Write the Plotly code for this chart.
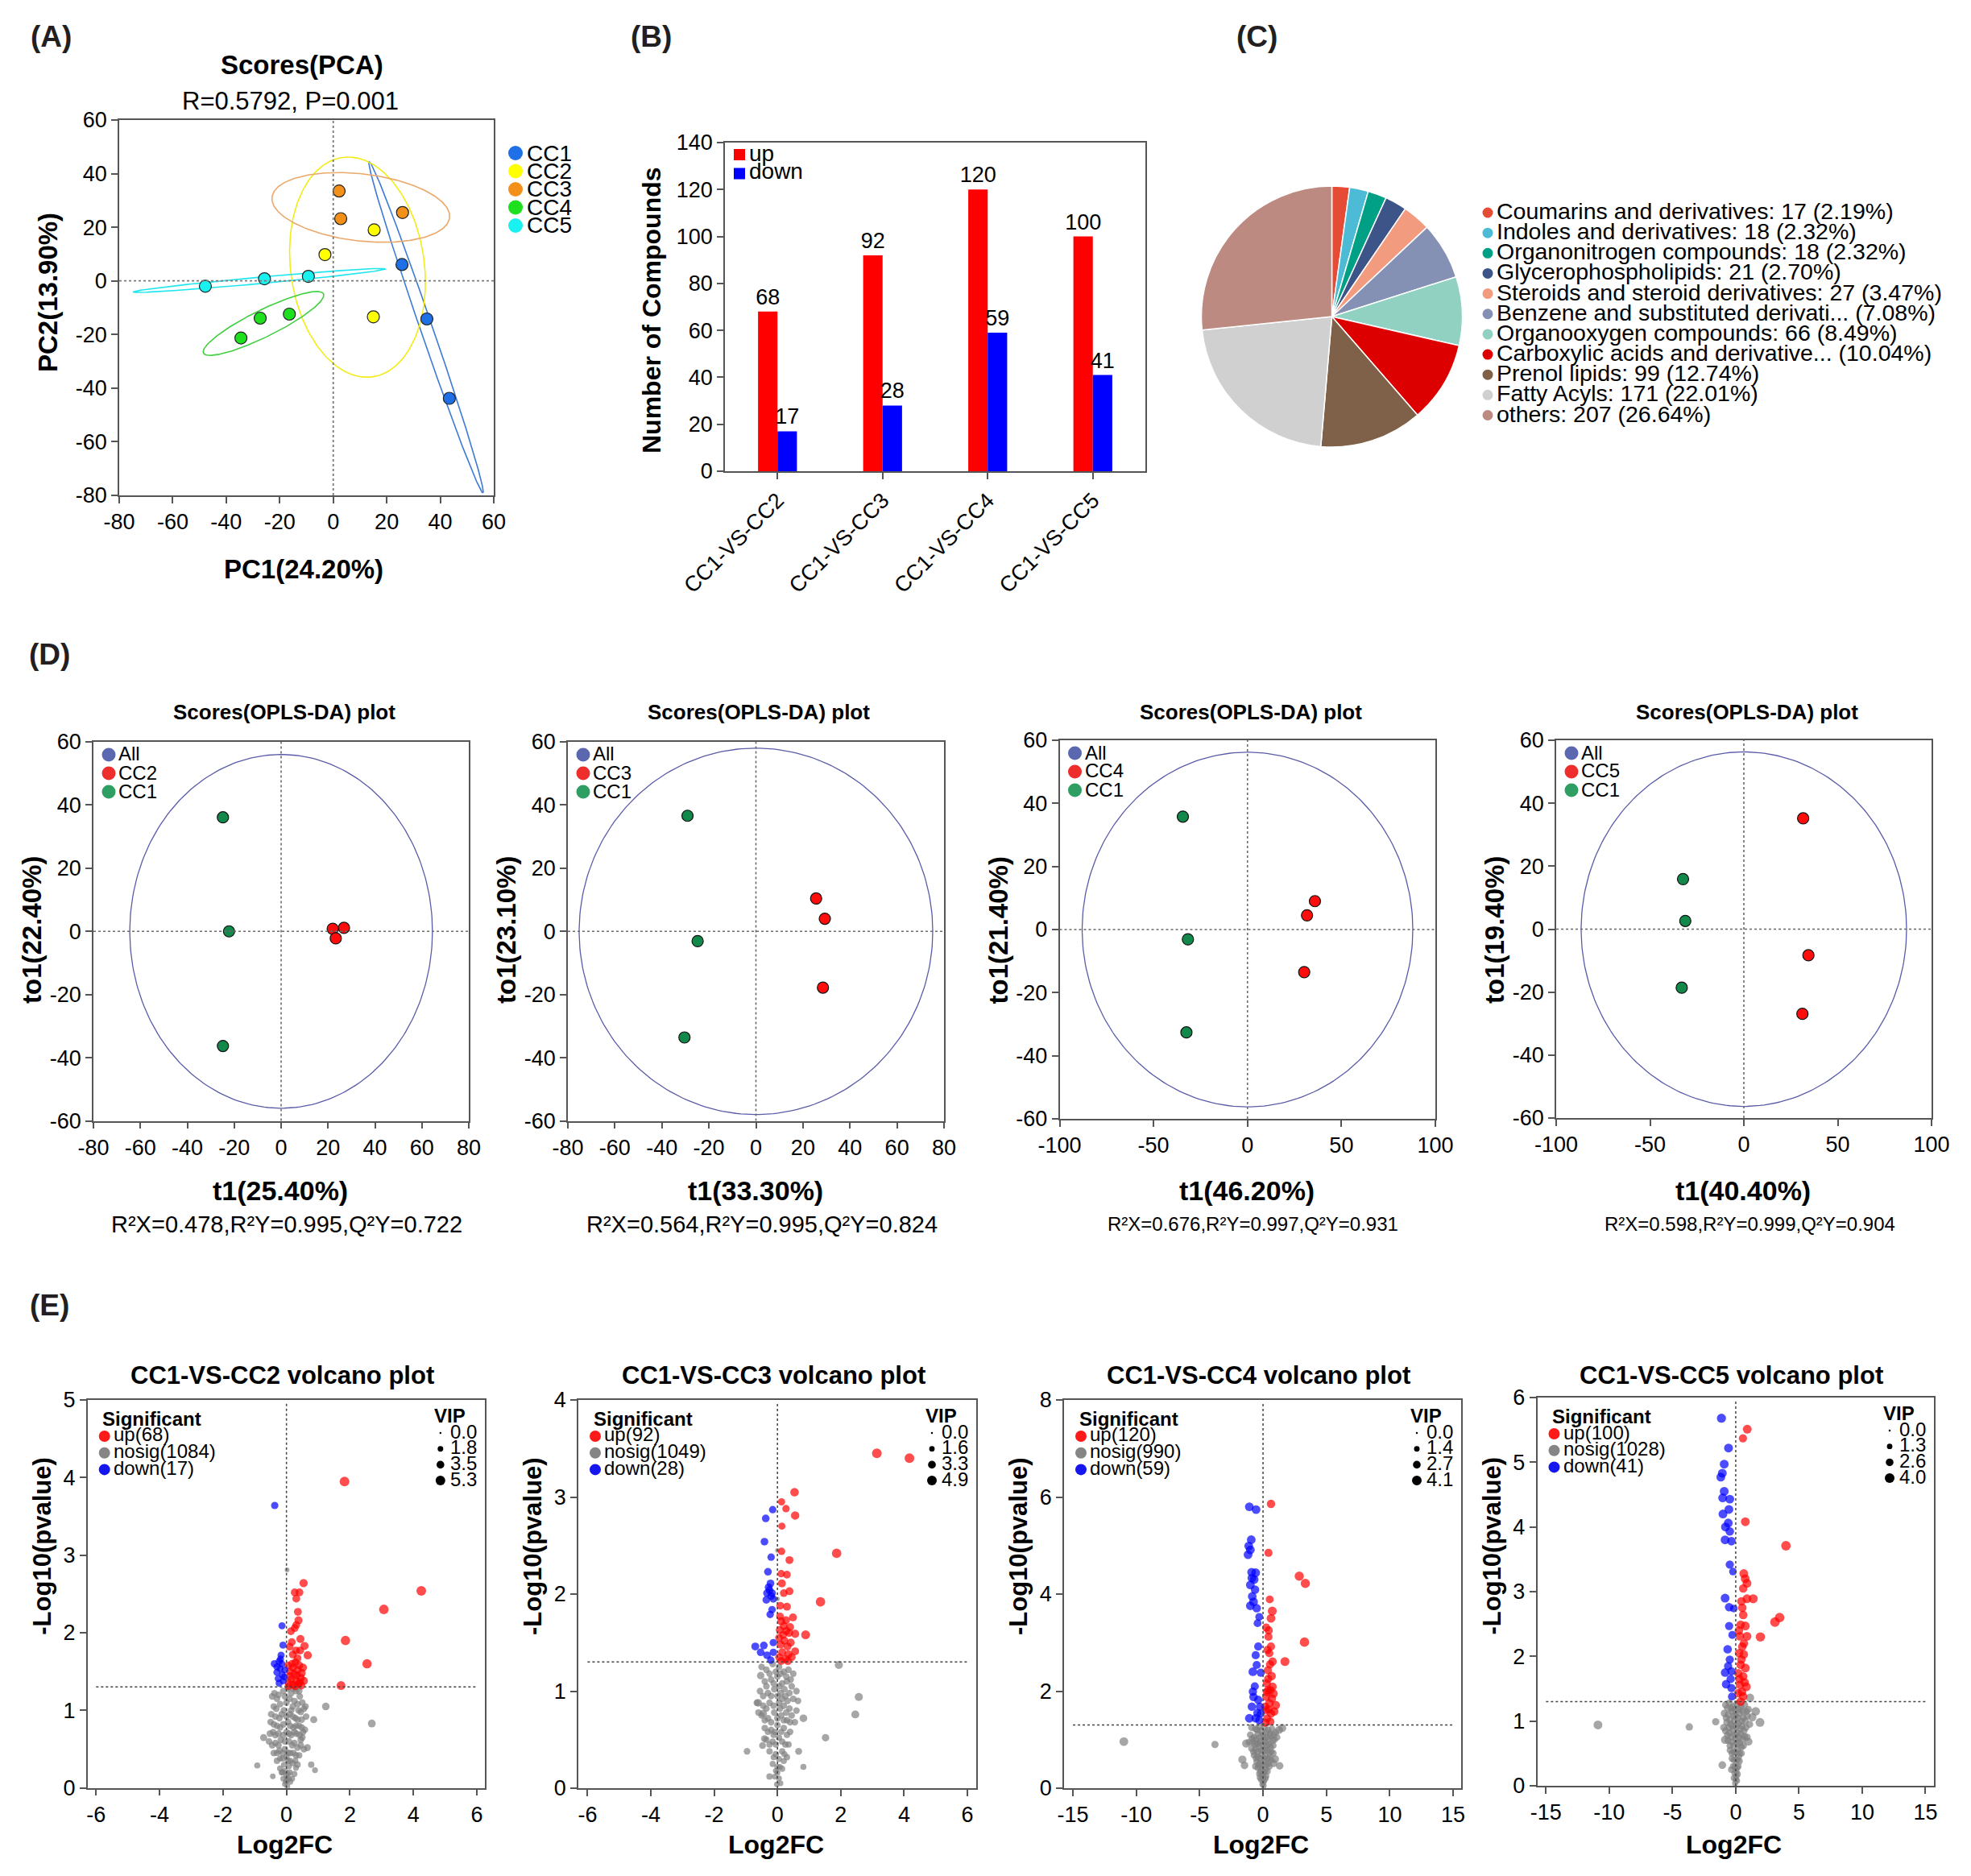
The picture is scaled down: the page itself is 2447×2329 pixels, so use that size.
import numpy as np
import plotly.graph_objects as go

W, H = 2447, 2329
FONT = "Liberation Sans, Arial, Helvetica, sans-serif"
AXC = "#555555"

# ====================== DATA ======================
# (A) PCA scores
PCA_GROUPS = ["CC1", "CC2", "CC3", "CC4", "CC5"]
PCA_PC1 = [[25.7, 35.0, 43.4], [15.3, -3.1, 15.0], [2.2, 2.8, 25.9],
           [-34.5, -27.3, -16.4], [-47.8, -25.7, -9.3]]
PCA_PC2 = [[6.1, -14.2, -43.8], [19.0, 9.8, -13.4], [33.5, 23.2, 25.5],
           [-21.3, -13.9, -12.4], [-2.0, 0.8, 1.7]]
PCA_COLORS = ["#1f6fe6", "#ffff00", "#f39019", "#1ee01e", "#19f0f0"]
ELL_COLORS = ["#3d7ad6", "#f2ec1a", "#eba86a", "#3fcf3f", "#1ee6ee"]
ELL_SEMI_MAJOR = [65.3, 41.3, 33.4, 25.0, 47.3]
ELL_SEMI_MINOR = [2.3, 25.0, 12.5, 5.0, 1.2]
ELL_ANGLE_DEG = [-71.0, -82.3, -6.6, 26.2, 5.2]

# (B) differential compounds
COMPARISONS = ["CC1-VS-CC2", "CC1-VS-CC3", "CC1-VS-CC4", "CC1-VS-CC5"]
N_UP = [68, 92, 120, 100]
N_DOWN = [17, 28, 59, 41]

# (C) classes
CLASSES = ["Coumarins and derivatives", "Indoles and derivatives", "Organonitrogen compounds",
           "Glycerophospholipids", "Steroids and steroid derivatives",
           "Benzene and substituted derivatives", "Organooxygen compounds",
           "Carboxylic acids and derivatives", "Prenol lipids", "Fatty Acyls", "others"]
CLASS_COUNTS = [17, 18, 18, 21, 27, 55, 66, 78, 99, 171, 207]
TRUNCATED = {"Benzene and substituted derivatives": "Benzene and substituted derivati...",
             "Carboxylic acids and derivatives": "Carboxylic acids and derivative..."}
PIE_COLORS = ["#E64B35", "#4DBBD5", "#00A087", "#3C5488", "#F39B7F", "#8491B4",
              "#91D1C2", "#DC0000", "#7E6148", "#D0D0D0", "#BC8A80"]

# (D) OPLS-DA
OPLS_GROUP = ["CC2", "CC3", "CC4", "CC5"]
OPLS_T1_PCT = ["25.40%", "33.30%", "46.20%", "40.40%"]
OPLS_TO1_PCT = ["22.40%", "23.10%", "21.40%", "19.40%"]
OPLS_STATS = ["R²X=0.478,R²Y=0.995,Q²Y=0.722", "R²X=0.564,R²Y=0.995,Q²Y=0.824",
              "R²X=0.676,R²Y=0.997,Q²Y=0.931", "R²X=0.598,R²Y=0.999,Q²Y=0.904"]
OPLS_CC1_T1 = [[-24.8, -22.2, -24.8], [-29.1, -24.8, -30.4], [-34.4, -31.7, -32.5], [-32.4, -31.2, -33.1]]
OPLS_CC1_TO1 = [[36.1, 0.0, -36.3], [36.6, -3.1, -33.6], [35.8, -3.1, -32.6], [15.9, 2.6, -18.6]]
OPLS_CCX_T1 = [[22.0, 26.8, 23.3], [25.6, 29.3, 28.5], [35.9, 31.7, 30.2], [31.6, 34.4, 31.2]]
OPLS_CCX_TO1 = [[0.8, 1.1, -2.2], [10.4, 4.0, -17.8], [9.0, 4.5, -13.5], [35.2, -8.3, -26.9]]
OPLS_ELL_A = [64.5, 75.2, 88.0, 86.7]
OPLS_ELL_B = [56.0, 58.0, 56.2, 56.3]
OPLS_XLIM = [80, 80, 100, 100]
OPLS_XDTICK = [20, 20, 50, 50]

# (E) volcano plots: (log2FC, -log10 p, VIP)
VIP_LEGEND = [[0.0, 1.8, 3.5, 5.3], [0.0, 1.6, 3.3, 4.9], [0.0, 1.4, 2.7, 4.1], [0.0, 1.3, 2.6, 4.0]]
VOL_COUNTS = [(68, 1084, 17), (92, 1049, 28), (120, 990, 59), (100, 1028, 41)]
VOL_YMAX = [5, 4, 8, 6]
VOL_XTICK = [2, 2, 5, 5]

E1_UP = [(1.83, 3.95, 5.3), (4.25, 2.54, 5.3), (3.07, 2.30, 5.3), (1.86, 1.90, 5.0), (2.54, 1.60, 5.0), (1.72, 1.32, 4.5),
         (0.54, 2.64, 4.0), (0.26, 2.52, 3.6), (0.41, 2.52, 3.6), (0.31, 2.44, 3.6), (0.36, 2.27, 3.6), (0.38, 2.16, 3.8),
         (0.31, 2.10, 3.6), (0.14, 2.02, 3.6), (0.26, 2.06, 3.6), (0.17, 1.88, 3.6), (0.44, 1.92, 3.8), (0.57, 1.83, 3.8),
         (0.67, 1.71, 4.0), (0.10, 1.82, 3.6), (0.30, 1.77, 3.6), (0.43, 1.77, 3.6), (0.20, 1.72, 3.6), (0.35, 1.67, 3.6),
         (0.08, 1.35, 3.6), (0.15, 1.40, 3.6), (0.22, 1.33, 3.6), (0.30, 1.38, 3.6), (0.38, 1.34, 3.6), (0.45, 1.42, 3.8),
         (0.12, 1.50, 3.6), (0.25, 1.47, 3.6), (0.35, 1.52, 3.8), (0.48, 1.48, 3.8), (0.05, 1.58, 3.4), (0.18, 1.60, 3.6),
         (0.28, 1.62, 3.6), (0.40, 1.58, 3.8), (0.52, 1.55, 3.8), (0.10, 1.44, 3.6), (0.33, 1.45, 3.6), (0.42, 1.36, 3.6),
         (0.20, 1.55, 3.6), (0.55, 1.38, 3.8), (0.06, 1.31, 3.4), (0.27, 1.31, 3.6), (0.47, 1.32, 3.6)]
E1_DOWN = [(-0.37, 3.64, 3.2), (-0.14, 2.09, 3.0), (-0.11, 1.84, 3.0), (-0.17, 1.71, 3.0), (-0.23, 1.63, 3.0),
           (-0.38, 1.60, 3.2), (-0.20, 1.54, 3.0), (-0.30, 1.49, 3.0), (-0.13, 1.46, 3.0), (-0.26, 1.41, 3.0),
           (-0.07, 1.43, 2.8), (-0.23, 1.35, 3.0), (-0.30, 1.56, 3.0), (-0.15, 1.60, 3.0), (-0.05, 1.52, 2.8),
           (-0.19, 1.66, 3.0), (-0.10, 1.38, 2.8)]
E1_NOSIG = [(1.24, 1.05, 3.4), (2.69, 0.83, 3.6), (0.86, 0.88, 3.0), (-0.72, 0.65, 3.0), (-0.92, 0.29, 2.2),
            (-0.43, 0.15, 1.8), (0.78, 0.30, 2.4), (0.90, 0.23, 2.0), (0.66, 0.52, 2.8), (0.30, 0.26, 2.0), (0.02, 2.81, 1.2),
            (-0.45, 1.18, 2.6), (-0.30, 1.15, 2.6), (-0.10, 1.25, 2.6), (0.05, 1.28, 2.6), (0.15, 1.22, 2.6), (0.30, 1.25, 2.6),
            (0.42, 1.18, 2.6), (0.50, 1.10, 2.6), (0.55, 1.02, 2.6), (-0.40, 1.05, 2.6), (-0.20, 1.08, 2.6), (0.00, 1.10, 2.6),
            (0.20, 1.05, 2.6), (0.38, 1.00, 2.6), (-0.48, 0.95, 2.6), (-0.35, 0.92, 2.6), (-0.15, 0.95, 2.6), (0.10, 0.95, 2.6),
            (0.28, 0.90, 2.6), (0.48, 0.88, 2.6), (0.62, 0.92, 2.6), (-0.50, 0.85, 2.6), (-0.30, 0.80, 2.6), (-0.10, 0.82, 2.6),
            (0.05, 0.85, 2.6), (0.22, 0.78, 2.6), (0.40, 0.80, 2.6), (0.58, 0.75, 2.6), (-0.42, 0.72, 2.6), (-0.25, 0.70, 2.6),
            (0.00, 0.72, 2.6), (0.15, 0.68, 2.6), (0.32, 0.70, 2.6), (0.50, 0.65, 2.6), (-0.55, 0.60, 2.6), (-0.35, 0.58, 2.6),
            (-0.18, 0.62, 2.6), (0.08, 0.60, 2.6), (0.25, 0.58, 2.6), (0.45, 0.55, 2.6), (-0.40, 0.45, 2.6), (-0.22, 0.48, 2.6),
            (-0.05, 0.50, 2.6), (0.12, 0.45, 2.6), (0.30, 0.42, 2.6), (0.55, 0.50, 2.6), (-0.30, 0.35, 2.4), (-0.12, 0.38, 2.4),
            (0.05, 0.35, 2.4), (0.20, 0.32, 2.4), (0.35, 0.30, 2.4), (-0.20, 0.25, 2.2), (-0.05, 0.22, 2.2), (0.10, 0.20, 2.2),
            (0.25, 0.18, 2.2), (-0.10, 0.12, 2.0), (0.02, 0.10, 2.0), (0.12, 0.08, 2.0), (-0.05, 0.05, 1.8), (0.03, 0.02, 1.8),
            (0.00, 0.15, 2.0), (-0.15, 0.20, 2.2), (0.18, 0.12, 2.0),
            (-0.25, 1.20, 2.6), (-0.05, 1.18, 2.6), (0.10, 1.15, 2.6), (0.25, 1.12, 2.6), (0.35, 1.08, 2.6), (-0.32, 1.02, 2.6),
            (-0.08, 1.00, 2.6), (0.15, 1.00, 2.6), (0.45, 0.98, 2.6), (-0.22, 0.90, 2.6), (0.00, 0.92, 2.6), (0.20, 0.92, 2.6),
            (0.35, 0.88, 2.6), (-0.40, 0.82, 2.6), (-0.20, 0.78, 2.6), (0.12, 0.80, 2.6), (0.30, 0.80, 2.6), (0.48, 0.78, 2.6),
            (-0.35, 0.68, 2.6), (-0.10, 0.68, 2.6), (0.08, 0.70, 2.6), (0.25, 0.72, 2.6), (0.42, 0.68, 2.6), (-0.45, 0.55, 2.6),
            (-0.25, 0.55, 2.6), (-0.05, 0.60, 2.6), (0.18, 0.55, 2.6), (0.35, 0.52, 2.6), (-0.30, 0.45, 2.4), (-0.12, 0.45, 2.4),
            (0.05, 0.45, 2.4), (0.22, 0.45, 2.4), (0.40, 0.42, 2.4), (-0.20, 0.38, 2.2), (0.00, 0.40, 2.2), (0.12, 0.35, 2.2),
            (0.28, 0.35, 2.2), (-0.08, 0.30, 2.0), (0.08, 0.28, 2.0), (-0.12, 0.20, 2.0), (0.05, 0.18, 2.0), (-0.02, 0.08, 1.8),
            (0.08, 0.12, 1.8), (0.45, 0.62, 2.6), (0.52, 0.72, 2.6), (-0.52, 0.70, 2.6), (0.60, 1.05, 2.6), (-0.38, 1.22, 2.6),
            (0.40, 1.25, 2.6), (0.22, 1.28, 2.6)]

E2_UP = [(3.14, 3.45, 4.9), (4.17, 3.40, 4.9), (1.87, 2.42, 4.7), (1.36, 1.92, 4.7), (0.89, 1.58, 4.2), (0.54, 3.05, 3.9),
         (0.13, 2.95, 2.8), (0.27, 2.88, 3.0), (0.56, 2.81, 3.8), (0.14, 2.70, 2.8), (0.13, 2.44, 3.0), (0.38, 2.35, 3.4),
         (0.12, 2.21, 3.0), (0.30, 2.20, 3.2), (0.14, 2.11, 3.4), (0.38, 2.03, 3.4), (0.20, 2.01, 3.2), (0.09, 1.88, 3.2),
         (0.30, 1.87, 3.4), (0.08, 1.77, 3.2), (0.49, 1.76, 3.4), (0.27, 1.73, 3.4), (0.12, 1.72, 3.4), (0.37, 1.60, 3.4),
         (0.56, 1.59, 3.6), (0.07, 1.63, 3.2), (0.56, 1.41, 3.4), (0.05, 1.35, 3.2), (0.15, 1.40, 3.4), (0.25, 1.33, 3.4),
         (0.35, 1.38, 3.4), (0.45, 1.35, 3.4), (0.10, 1.48, 3.4), (0.22, 1.52, 3.4), (0.32, 1.46, 3.4), (0.42, 1.50, 3.4),
         (0.18, 1.58, 3.4), (0.28, 1.62, 3.4), (0.05, 1.55, 3.2), (0.40, 1.66, 3.4), (0.20, 1.67, 3.4), (0.33, 1.31, 3.4),
         (0.12, 1.31, 3.2)]
E2_DOWN = [(-0.15, 2.87, 3.0), (-0.37, 2.78, 3.2), (-0.41, 2.54, 3.2), (-0.20, 2.38, 3.0), (-0.30, 2.23, 3.2),
           (-0.22, 2.11, 3.2), (-0.25, 2.04, 3.2), (-0.33, 2.01, 3.2), (-0.17, 2.01, 3.2), (-0.35, 1.94, 3.2),
           (-0.13, 1.95, 3.0), (-0.17, 1.84, 3.0), (-0.23, 1.79, 3.0), (-0.70, 1.46, 3.4), (-0.43, 1.47, 3.2),
           (-0.13, 1.50, 3.0), (-0.53, 1.40, 3.2), (-0.33, 1.37, 3.2), (-0.13, 1.40, 3.0), (-0.21, 1.32, 3.0),
           (-0.28, 2.07, 3.2), (-0.20, 1.98, 3.2)]
E2_NOSIG = [(1.94, 1.27, 3.6), (2.57, 0.94, 3.6), (2.46, 0.76, 3.4), (1.52, 0.52, 3.0), (0.82, 0.72, 3.2), (-0.61, 0.88, 3.2),
            (-0.96, 0.38, 2.4), (-0.47, 0.44, 2.6), (0.67, 0.38, 2.6), (0.82, 0.22, 2.0), (-0.53, 1.16, 3.0), (-0.45, 0.77, 3.0),
            (-0.41, 0.51, 2.6), (-0.25, 0.12, 2.2), (0.00, 2.45, 1.0), (0.00, 1.95, 1.0),
            (-0.50, 1.25, 2.4), (-0.35, 1.22, 2.4), (-0.15, 1.28, 2.4), (0.05, 1.25, 2.4), (0.20, 1.20, 2.4), (0.35, 1.22, 2.4),
            (0.50, 1.18, 2.4), (-0.40, 1.10, 2.4), (-0.20, 1.12, 2.4), (0.00, 1.15, 2.4), (0.15, 1.08, 2.4), (0.30, 1.10, 2.4),
            (0.45, 1.05, 2.4), (0.60, 1.00, 2.4), (-0.55, 1.00, 2.4), (-0.30, 0.98, 2.4), (-0.10, 1.02, 2.4), (0.10, 0.98, 2.4),
            (0.25, 0.95, 2.4), (0.50, 0.92, 2.4), (-0.65, 0.88, 2.4), (-0.45, 0.85, 2.4), (-0.25, 0.88, 2.4), (0.05, 0.88, 2.4),
            (0.20, 0.85, 2.4), (0.38, 0.82, 2.4), (0.60, 0.80, 2.4), (-0.50, 0.75, 2.4), (-0.30, 0.72, 2.4), (-0.10, 0.78, 2.4),
            (0.12, 0.75, 2.4), (0.30, 0.70, 2.4), (0.55, 0.68, 2.4), (-0.40, 0.62, 2.4), (-0.20, 0.60, 2.4), (0.00, 0.65, 2.4),
            (0.20, 0.62, 2.4), (0.40, 0.58, 2.4), (-0.35, 0.50, 2.2), (-0.15, 0.48, 2.2), (0.05, 0.52, 2.2), (0.25, 0.45, 2.2),
            (-0.25, 0.38, 2.2), (-0.05, 0.35, 2.2), (0.15, 0.38, 2.2), (0.30, 0.32, 2.2), (-0.15, 0.25, 2.0), (0.00, 0.22, 2.0),
            (0.15, 0.20, 2.0), (-0.08, 0.12, 1.8), (0.05, 0.10, 1.8), (0.10, 0.05, 1.6), (-0.02, 0.04, 1.6), (0.00, 0.16, 1.8),
            (0.20, 0.28, 2.0), (-0.12, 0.55, 2.2),
            (-0.25, 1.18, 2.4), (-0.05, 1.20, 2.4), (0.10, 1.18, 2.4), (0.28, 1.15, 2.4), (0.42, 1.12, 2.4), (-0.35, 1.05, 2.4),
            (-0.12, 1.08, 2.4), (0.05, 1.05, 2.4), (0.22, 1.02, 2.4), (0.38, 0.98, 2.4), (-0.45, 0.95, 2.4), (-0.20, 0.95, 2.4),
            (0.00, 0.95, 2.4), (0.15, 0.92, 2.4), (0.32, 0.90, 2.4), (-0.35, 0.82, 2.4), (-0.12, 0.85, 2.4), (0.08, 0.82, 2.4),
            (0.28, 0.78, 2.4), (0.45, 0.75, 2.4), (-0.40, 0.70, 2.4), (-0.20, 0.68, 2.4), (0.00, 0.72, 2.4), (0.20, 0.70, 2.4),
            (0.40, 0.68, 2.4), (-0.30, 0.58, 2.2), (-0.08, 0.58, 2.2), (0.12, 0.58, 2.2), (0.30, 0.55, 2.2), (-0.25, 0.45, 2.2),
            (-0.05, 0.45, 2.2), (0.15, 0.48, 2.2), (0.35, 0.45, 2.2), (-0.12, 0.32, 2.0), (0.05, 0.30, 2.0), (0.22, 0.35, 2.0),
            (-0.05, 0.18, 1.8), (0.08, 0.22, 1.8), (0.65, 0.90, 2.4), (-0.60, 0.78, 2.4)]

E3_UP = [(0.63, 5.86, 3.2), (0.43, 4.85, 3.0), (2.86, 4.37, 3.8), (3.34, 4.22, 3.8), (0.53, 3.89, 2.8), (0.73, 3.65, 3.6),
         (0.63, 3.50, 3.4), (3.27, 3.01, 3.9), (1.73, 2.61, 3.6), (0.25, 3.31, 3.0), (0.43, 3.12, 3.0), (0.63, 2.92, 3.0),
         (0.50, 2.78, 3.0), (0.75, 2.61, 3.2), (0.38, 2.43, 3.0), (0.68, 2.31, 3.2), (0.30, 2.16, 3.0), (0.58, 2.02, 3.2),
         (0.25, 1.88, 3.0), (0.83, 1.95, 3.2), (1.00, 1.71, 3.4), (0.50, 1.75, 3.2), (0.25, 1.61, 3.0), (0.63, 1.54, 3.2),
         (0.33, 1.44, 3.0), (0.58, 1.37, 3.0), (0.18, 1.68, 3.0), (0.38, 2.02, 3.0), (0.75, 2.09, 3.2), (0.88, 1.58, 3.2),
         (0.20, 1.35, 3.0), (0.45, 1.62, 3.0), (0.40, 2.25, 3.0), (0.55, 2.55, 3.0), (0.35, 2.85, 3.0), (0.45, 3.25, 3.0),
         (0.70, 1.85, 3.2), (0.30, 1.98, 3.0)]
E3_DOWN = [(-1.08, 5.80, 3.4), (-0.55, 5.74, 3.4), (-0.93, 5.12, 3.4), (-1.13, 4.99, 3.4), (-1.00, 4.91, 3.4),
           (-1.18, 4.81, 3.4), (-0.58, 4.44, 3.4), (-0.88, 4.33, 3.4), (-1.00, 4.19, 3.4), (-0.63, 4.09, 3.2),
           (-0.75, 3.84, 3.4), (-1.00, 3.76, 3.4), (-0.50, 3.71, 3.2), (-0.30, 3.53, 2.8), (-0.43, 3.40, 2.8),
           (-0.38, 2.92, 3.0), (-0.58, 2.74, 3.0), (-0.80, 2.40, 3.4), (-0.18, 2.38, 3.0), (-0.50, 2.54, 3.0),
           (-0.80, 1.99, 3.2), (-0.38, 1.82, 3.2), (-0.88, 1.68, 3.2), (-0.25, 1.68, 3.0), (-1.08, 1.44, 3.4),
           (-0.58, 1.44, 3.2), (-0.18, 1.54, 3.0), (-0.75, 1.88, 3.2), (-0.90, 4.45, 3.4), (-0.70, 4.30, 3.4),
           (-0.85, 3.95, 3.4), (-0.45, 1.55, 3.0), (-0.30, 1.40, 3.0), (-0.65, 2.10, 3.0)]
E3_NOSIG = [(-10.98, 0.96, 3.4), (-3.79, 0.90, 2.4), (-1.33, 0.92, 3.0), (-1.63, 0.59, 3.0), (-1.46, 0.47, 2.6),
            (1.51, 1.24, 3.0), (1.26, 1.20, 2.8), (0.95, 0.60, 2.8), (1.31, 0.46, 2.6), (0.83, 0.51, 2.6),
            (-0.9, 1.25, 2.2), (-0.6, 1.22, 2.2), (-0.3, 1.27, 2.2), (0.1, 1.25, 2.2), (0.4, 1.20, 2.2), (0.7, 1.22, 2.2),
            (1.0, 1.15, 2.2), (-1.0, 1.10, 2.2), (-0.7, 1.05, 2.2), (-0.4, 1.12, 2.2), (0.0, 1.10, 2.2), (0.3, 1.05, 2.2),
            (0.6, 1.08, 2.2), (0.9, 1.00, 2.2), (-0.8, 0.95, 2.2), (-0.5, 0.92, 2.2), (-0.2, 0.98, 2.2), (0.15, 0.95, 2.2),
            (0.45, 0.90, 2.2), (0.8, 0.88, 2.2), (-0.9, 0.82, 2.2), (-0.6, 0.80, 2.2), (-0.3, 0.85, 2.2), (0.05, 0.80, 2.2),
            (0.35, 0.78, 2.2), (0.65, 0.75, 2.2), (-0.7, 0.68, 2.2), (-0.4, 0.65, 2.2), (-0.1, 0.70, 2.2), (0.2, 0.66, 2.2),
            (0.5, 0.62, 2.2), (-0.5, 0.55, 2.0), (-0.2, 0.52, 2.0), (0.1, 0.55, 2.0), (0.4, 0.50, 2.0), (-0.4, 0.42, 2.0),
            (-0.1, 0.40, 2.0), (0.2, 0.38, 2.0), (-0.3, 0.30, 1.8), (0.0, 0.28, 1.8), (0.25, 0.25, 1.8), (-0.15, 0.18, 1.8),
            (0.1, 0.15, 1.6), (-0.05, 0.08, 1.6), (0.05, 0.05, 1.6), (0.0, 0.12, 1.6), (-0.25, 0.22, 1.8), (0.35, 0.35, 2.0),
            (-0.45, 1.20, 2.2), (-0.15, 1.18, 2.2), (0.25, 1.15, 2.2), (0.55, 1.12, 2.2), (0.85, 1.10, 2.2), (-0.85, 1.02, 2.2),
            (-0.55, 1.00, 2.2), (-0.25, 1.05, 2.2), (0.10, 1.02, 2.2), (0.45, 1.00, 2.2), (0.75, 0.98, 2.2), (-0.65, 0.90, 2.2),
            (-0.35, 0.92, 2.2), (0.00, 0.90, 2.2), (0.30, 0.88, 2.2), (0.60, 0.85, 2.2), (-0.75, 0.75, 2.2), (-0.45, 0.75, 2.2),
            (-0.15, 0.78, 2.2), (0.20, 0.78, 2.2), (0.50, 0.72, 2.2), (0.80, 0.72, 2.2), (-0.55, 0.62, 2.1), (-0.25, 0.62, 2.1),
            (0.05, 0.62, 2.1), (0.35, 0.60, 2.1), (0.65, 0.58, 2.1), (-0.35, 0.48, 2.0), (-0.05, 0.48, 2.0), (0.25, 0.48, 2.0),
            (-0.2, 0.35, 1.9), (0.1, 0.33, 1.9), (0.0, 0.20, 1.7), (0.2, 0.20, 1.7), (-0.1, 0.28, 1.8), (0.5, 0.45, 2.0),
            (-0.6, 0.45, 2.0), (1.1, 1.05, 2.2), (-1.1, 0.95, 2.2)]

E4_UP = [(0.91, 5.51, 3.4), (0.57, 5.37, 3.0), (0.76, 4.08, 3.4), (3.97, 3.71, 3.9), (0.64, 3.28, 3.4), (0.89, 3.13, 3.4),
         (0.59, 3.05, 3.2), (0.89, 2.89, 3.4), (1.38, 2.89, 3.6), (3.10, 2.53, 3.9), (3.47, 2.60, 3.9), (1.95, 2.30, 3.8),
         (0.52, 2.75, 3.2), (0.59, 2.64, 3.2), (0.39, 2.49, 3.2), (0.76, 2.47, 3.4), (0.34, 2.31, 3.2), (0.89, 2.31, 3.4),
         (0.52, 2.15, 3.2), (0.27, 2.05, 3.2), (0.64, 2.03, 3.2), (0.39, 1.87, 3.2), (0.76, 1.82, 3.4), (0.20, 1.74, 3.2),
         (0.59, 1.69, 3.2), (0.34, 1.56, 3.2), (0.84, 1.53, 3.4), (0.20, 1.43, 3.2), (0.59, 1.38, 3.2), (0.39, 1.30, 3.2),
         (0.45, 1.95, 3.2), (0.30, 1.65, 3.2), (0.70, 1.60, 3.2), (0.50, 1.45, 3.2), (0.25, 2.40, 3.2), (0.65, 2.20, 3.2),
         (0.45, 2.85, 3.2), (0.75, 3.20, 3.4)]
E4_DOWN = [(-1.13, 5.68, 3.6), (-0.57, 5.22, 3.4), (-0.91, 4.97, 3.4), (-1.06, 4.83, 3.4), (-1.18, 4.77, 3.4),
           (-0.91, 4.55, 3.4), (-1.03, 4.45, 3.4), (-0.47, 4.43, 3.4), (-0.54, 4.27, 3.4), (-1.01, 4.20, 3.4),
           (-0.59, 4.06, 3.4), (-0.81, 4.00, 3.4), (-0.47, 3.93, 3.2), (-0.84, 3.80, 3.4), (-0.34, 3.78, 3.2),
           (-0.47, 3.42, 3.0), (-0.22, 3.31, 2.6), (-0.84, 2.90, 3.4), (-0.52, 2.76, 3.2), (-0.15, 2.74, 2.6),
           (-0.52, 2.47, 3.0), (-0.27, 2.33, 2.8), (-0.64, 2.11, 3.2), (-0.47, 1.95, 3.0), (-0.84, 1.75, 3.2),
           (-0.34, 1.77, 3.0), (-0.76, 1.57, 3.2), (-0.34, 1.51, 3.0), (-0.30, 1.38, 2.8), (-0.60, 1.85, 3.0),
           (-0.40, 1.65, 3.0)]
E4_NOSIG = [(-10.89, 0.94, 3.4), (-3.67, 0.91, 2.4), (-1.58, 0.99, 2.4), (-1.06, 0.32, 2.6), (1.58, 1.15, 3.2),
            (1.92, 0.98, 3.4), (1.31, 1.06, 3.0), (1.13, 1.36, 3.0), (1.01, 0.68, 2.8), (-0.84, 0.71, 3.0),
            (-0.8, 1.25, 2.3), (-0.5, 1.28, 2.3), (-0.2, 1.22, 2.3), (0.1, 1.27, 2.3), (0.4, 1.22, 2.3), (0.7, 1.25, 2.3),
            (1.0, 1.18, 2.3), (-0.9, 1.12, 2.3), (-0.6, 1.10, 2.3), (-0.3, 1.15, 2.3), (0.0, 1.08, 2.3), (0.3, 1.12, 2.3),
            (0.6, 1.05, 2.3), (0.9, 1.08, 2.3), (-0.7, 0.98, 2.3), (-0.4, 0.95, 2.3), (-0.1, 1.00, 2.3), (0.2, 0.96, 2.3),
            (0.5, 0.92, 2.3), (0.8, 0.90, 2.3), (-0.8, 0.85, 2.3), (-0.5, 0.82, 2.3), (-0.2, 0.86, 2.3), (0.1, 0.82, 2.3),
            (0.4, 0.80, 2.3), (0.7, 0.76, 2.3), (-0.6, 0.70, 2.3), (-0.3, 0.68, 2.3), (0.0, 0.72, 2.3), (0.3, 0.66, 2.3),
            (0.6, 0.62, 2.3), (-0.45, 0.55, 2.1), (-0.15, 0.52, 2.1), (0.15, 0.56, 2.1), (0.45, 0.50, 2.1), (-0.3, 0.42, 2.0),
            (0.0, 0.40, 2.0), (0.3, 0.38, 2.0), (-0.2, 0.30, 1.9), (0.1, 0.28, 1.9), (-0.1, 0.20, 1.8), (0.15, 0.18, 1.8),
            (0.0, 0.10, 1.7), (-0.05, 0.04, 1.6), (0.05, 0.15, 1.7), (-0.35, 0.25, 1.9), (0.25, 0.45, 2.0),
            (-0.65, 1.20, 2.3), (-0.35, 1.20, 2.3), (-0.05, 1.18, 2.3), (0.25, 1.18, 2.3), (0.55, 1.15, 2.3), (0.85, 1.15, 2.3),
            (-0.75, 1.05, 2.3), (-0.45, 1.02, 2.3), (-0.15, 1.08, 2.3), (0.15, 1.05, 2.3), (0.45, 1.00, 2.3), (0.75, 1.00, 2.3),
            (-0.55, 0.90, 2.3), (-0.25, 0.92, 2.3), (0.05, 0.92, 2.3), (0.35, 0.88, 2.3), (0.65, 0.85, 2.3), (-0.65, 0.78, 2.3),
            (-0.35, 0.76, 2.3), (-0.05, 0.78, 2.3), (0.25, 0.75, 2.3), (0.55, 0.72, 2.3), (-0.45, 0.62, 2.2), (-0.15, 0.62, 2.2),
            (0.15, 0.65, 2.2), (0.45, 0.60, 2.2), (-0.3, 0.50, 2.1), (0.0, 0.52, 2.1), (0.3, 0.50, 2.1), (-0.15, 0.40, 2.0),
            (0.15, 0.40, 2.0), (-0.05, 0.30, 1.9), (0.2, 0.30, 1.9), (0.05, 0.22, 1.8), (-0.15, 0.12, 1.7), (0.1, 0.08, 1.7),
            (1.1, 0.95, 2.3), (-0.95, 0.90, 2.3), (0.9, 0.75, 2.3)]

VOL_UP = [E1_UP, E2_UP, E3_UP, E4_UP]
VOL_DOWN = [E1_DOWN, E2_DOWN, E3_DOWN, E4_DOWN]
VOL_NOSIG = [E1_NOSIG, E2_NOSIG, E3_NOSIG, E4_NOSIG]
P_THRESHOLD = 0.05

# ====================== LAYOUT CONSTANTS (pixels) ======================
A_BOX = (148, 613, 149, 615)
B_BOX = (900, 1422, 177, 585)
PIE_BOX = (1490, 1817, 231, 555)
D_BOX = [(116, 582, 921, 1391.5), (705, 1172, 921, 1391.5), (1315.5, 1782, 919, 1389), (1932, 2398, 919, 1388)]
E_BOX = [(108.7, 601.8, 1738, 2219.7), (718, 1212, 1738, 2220), (1321, 1814, 1738, 2220), (1908.5, 2401, 1735, 2217)]
E_XRANGE = [(-6.27, 6.25), (-6.29, 6.28), (-15.7, 15.63), (-15.69, 15.67)]


def PX(x):
    return x / W


def PY(y):
    return 1 - y / H


annotations, shapes = [], []


def text(x, y, s, size, bold=False, xanchor="center", yanchor="middle", angle=0, color="black"):
    if bold:
        s = "<b>" + s + "</b>"
    annotations.append(dict(x=PX(x), y=PY(y), xref="paper", yref="paper", text=s, showarrow=False,
                            xanchor=xanchor, yanchor=yanchor, textangle=angle,
                            font=dict(family=FONT, size=size, color=color)))


def dot(cx, cy, d, color):
    shapes.append(dict(type="circle", xref="paper", yref="paper", x0=PX(cx - d / 2), x1=PX(cx + d / 2),
                       y0=PY(cy + d / 2), y1=PY(cy - d / 2), fillcolor=color, line=dict(width=0)))


def square(cx, cy, d, color):
    shapes.append(dict(type="rect", xref="paper", yref="paper", x0=PX(cx - d / 2), x1=PX(cx + d / 2),
                       y0=PY(cy + d / 2), y1=PY(cy - d / 2), fillcolor=color, line=dict(width=0)))


def nice(v):
    v = round(float(v), 6)
    return str(int(v)) if v == int(v) else str(v)


def axis(box, horizontal, rng, dtick=None, anchor=None, **kw):
    if horizontal:
        dom = [PX(box[0]), PX(box[1])]
    else:
        dom = [PY(box[3]), PY(box[2])]
    d = dict(domain=dom, range=rng, showline=True, linecolor=AXC, linewidth=1.5, mirror=True,
             ticks="outside", ticklen=8, tickwidth=1.5, tickcolor=AXC, automargin=False,
             tickfont=dict(family=FONT, size=27, color="black"),
             showgrid=False, zeroline=False, anchor=anchor, fixedrange=True)
    if dtick is not None:
        lo = np.ceil(rng[0] / dtick - 1e-9) * dtick
        vals = np.arange(lo, rng[1] + 1e-9, dtick)
        d.update(tickmode="array", tickvals=list(vals), ticktext=[nice(v) for v in vals])
    d.update(kw)
    return d


def ellipse(cx, cy, a, b, ang_deg, n=240):
    t = np.linspace(0, 2 * np.pi, n)
    th = np.deg2rad(ang_deg)
    x = cx + a * np.cos(t) * np.cos(th) - b * np.sin(t) * np.sin(th)
    y = cy + a * np.cos(t) * np.sin(th) + b * np.sin(t) * np.cos(th)
    return x, y


def zero_lines(xa, ya, color="#7a7a7a", width=1.8, dash="dot"):
    shapes.append(dict(type="line", xref=xa, yref=ya + " domain", x0=0, x1=0, y0=0, y1=1,
                       line=dict(color=color, width=width, dash=dash)))
    shapes.append(dict(type="line", xref=xa + " domain", yref=ya, x0=0, x1=1, y0=0, y1=0,
                       line=dict(color=color, width=width, dash=dash)))


fig = go.Figure()
layout = {}

# ====================== (A) PCA ======================
layout["xaxis"] = axis(A_BOX, True, [-80, 60], 20, anchor="y")
layout["yaxis"] = axis(A_BOX, False, [-80, 60], 20, anchor="x")
zero_lines("x", "y")
for i, g in enumerate(PCA_GROUPS):
    cx, cy = np.mean(PCA_PC1[i]), np.mean(PCA_PC2[i])
    ex, ey = ellipse(cx, cy, ELL_SEMI_MAJOR[i], ELL_SEMI_MINOR[i], ELL_ANGLE_DEG[i])
    fig.add_trace(go.Scatter(x=ex, y=ey, mode="lines", line=dict(color=ELL_COLORS[i], width=1.6),
                             xaxis="x", yaxis="y", hoverinfo="skip", showlegend=False, cliponaxis=False))
for i, g in enumerate(PCA_GROUPS):
    fig.add_trace(go.Scatter(x=PCA_PC1[i], y=PCA_PC2[i], mode="markers", name=g,
                             marker=dict(color=PCA_COLORS[i], size=15, line=dict(color="#222", width=1.2)),
                             xaxis="x", yaxis="y", showlegend=False))
    dot(640, 190 + 22.5 * i, 18, PCA_COLORS[i])
    text(652, 190 + 22.5 * i, g, 28, xanchor="left")
text(374.5, 81, "Scores(PCA)", 33, bold=True)
text(360.4, 125, "R=0.5792, P=0.001", 31)
text(377, 706, "PC1(24.20%)", 33, bold=True)
text(60, 363, "PC2(13.90%)", 33, bold=True, angle=-90)
text(63.5, 46, "(A)", 37, bold=True, color="#231f20")

# ====================== (B) bars ======================
layout["xaxis2"] = axis(B_BOX, True, [-0.5, 3.5], anchor="y2", type="category", tickangle=-45)
layout["yaxis2"] = axis(B_BOX, False, [0, 140], 20, anchor="x2")
fig.add_trace(go.Bar(x=COMPARISONS, y=N_UP, name="up", marker=dict(color="#ff0000", line=dict(width=0)),
                     text=N_UP, textposition="outside", constraintext="none", cliponaxis=False,
                     textfont=dict(family=FONT, size=27, color="black"),
                     xaxis="x2", yaxis="y2", showlegend=False))
fig.add_trace(go.Bar(x=COMPARISONS, y=N_DOWN, name="down", marker=dict(color="#0000ff", line=dict(width=0)),
                     text=N_DOWN, textposition="outside", constraintext="none", cliponaxis=False,
                     textfont=dict(family=FONT, size=27, color="black"),
                     xaxis="x2", yaxis="y2", showlegend=False))
square(918, 192, 14, "#ff0000")
text(928, 190, "up", 28, xanchor="left")
square(918, 215.5, 14, "#0000ff")
text(928, 213, "down", 28, xanchor="left")
text(809, 385, "Number of Compounds", 32, bold=True, angle=-90)
text(808, 46, "(B)", 37, bold=True, color="#231f20")

# ====================== (C) pie ======================
fig.add_trace(go.Pie(values=CLASS_COUNTS, labels=CLASSES, sort=False, direction="clockwise", rotation=0,
                     marker=dict(colors=PIE_COLORS, line=dict(color="white", width=1.5)),
                     textinfo="none", hoverinfo="label+value+percent", showlegend=False,
                     domain=dict(x=[PX(PIE_BOX[0]), PX(PIE_BOX[1])], y=[PY(PIE_BOX[3]), PY(PIE_BOX[2])])))
total = sum(CLASS_COUNTS)
for i, name in enumerate(CLASSES):
    pct = f"{100 * CLASS_COUNTS[i] / total:.2f}%"
    if name in TRUNCATED:
        lab = f"{TRUNCATED[name]} ({pct})"
    else:
        lab = f"{name}: {CLASS_COUNTS[i]} ({pct})"
    yy = 262 + 25.15 * i
    dot(1847, yy + 2, 13, PIE_COLORS[i])
    text(1856, yy, lab, 28.5, xanchor="left")
text(1560, 46, "(C)", 37, bold=True, color="#231f20")

# ====================== (D) OPLS-DA ======================
for k in range(4):
    n = 3 + k
    xa, ya = f"x{n}", f"y{n}"
    box = D_BOX[k]
    layout[f"xaxis{n}"] = axis(box, True, [-OPLS_XLIM[k], OPLS_XLIM[k]], OPLS_XDTICK[k], anchor=ya)
    layout[f"yaxis{n}"] = axis(box, False, [-60, 60], 20, anchor=xa)
    zero_lines(xa, ya, color="#6a6a6a", width=1.6)
    ex, ey = ellipse(0, 0, OPLS_ELL_A[k], OPLS_ELL_B[k], 0)
    fig.add_trace(go.Scatter(x=ex, y=ey, mode="lines", line=dict(color="#5a5ca8", width=1.3),
                             xaxis=xa, yaxis=ya, hoverinfo="skip", showlegend=False))
    fig.add_trace(go.Scatter(x=OPLS_CC1_T1[k], y=OPLS_CC1_TO1[k], mode="markers", name="CC1",
                             marker=dict(color="#12894a", size=14, line=dict(color="#111", width=1.2)),
                             xaxis=xa, yaxis=ya, showlegend=False))
    fig.add_trace(go.Scatter(x=OPLS_CCX_T1[k], y=OPLS_CCX_TO1[k], mode="markers", name=OPLS_GROUP[k],
                             marker=dict(color="#ff0d0d", size=14, line=dict(color="#111", width=1.2)),
                             xaxis=xa, yaxis=ya, showlegend=False))
    x0, x1, y0, y1 = box
    cxp = (x0 + x1) / 2
    leg = [("All", "#5b68b0"), (OPLS_GROUP[k], "#ee2d2d"), ("CC1", "#2e9e62")]
    for j, (lab, col) in enumerate(leg):
        dot(x0 + 19, y0 + 16 + 23 * j, 17, col)
        text(x0 + 29, y0 + 15 + 23 * j, lab, 24, xanchor="left")
    text(cxp + 4, 883.5, "Scores(OPLS-DA) plot", 26, bold=True)
    text(cxp - 1, 1478, "t1(" + OPLS_T1_PCT[k] + ")", 34, bold=True)
    text(cxp + 7, 1519.5, OPLS_STATS[k], 29 if k < 2 else 24)
    text(x0 - 77, 1155, "to1(" + OPLS_TO1_PCT[k] + ")", 33, bold=True, angle=-90)
text(62, 812, "(D)", 37, bold=True, color="#231f20")

# ====================== (E) volcano ======================
thr = -np.log10(P_THRESHOLD)


def vip_size(v, vmax):
    return 2.5 + 9.5 * (v / vmax) ** 0.7


for k in range(4):
    n = 7 + k
    xa, ya = f"x{n}", f"y{n}"
    box = E_BOX[k]
    x0, x1, y0, y1 = box
    vmax = VIP_LEGEND[k][-1]
    layout[f"xaxis{n}"] = axis(box, True, list(E_XRANGE[k]), VOL_XTICK[k], anchor=ya)
    layout[f"yaxis{n}"] = axis(box, False, [0, VOL_YMAX[k]], 1 if k != 2 else 2, anchor=xa)
    lim = 3 * VOL_XTICK[k]
    shapes.append(dict(type="line", xref=xa, yref=ya, x0=-lim, x1=lim, y0=thr, y1=thr,
                       line=dict(color="#444", width=1.5, dash="dot")))
    shapes.append(dict(type="line", xref=xa, yref=ya + " domain", x0=0, x1=0, y0=0, y1=0.99,
                       line=dict(color="#444", width=1.5, dash="dot")))
    for data, col, nm in [(VOL_NOSIG[k], "#808080", "nosig"), (VOL_UP[k], "#ff0000", "up"),
                          (VOL_DOWN[k], "#0000ff", "down")]:
        xs = [p[0] for p in data]
        ys = [p[1] for p in data]
        ss = [vip_size(p[2], vmax) for p in data]
        fig.add_trace(go.Scatter(x=xs, y=ys, mode="markers", name=nm,
                                 marker=dict(color=col, size=ss, line=dict(width=0)),
                                 xaxis=xa, yaxis=ya, showlegend=False))
    up, nos, dn = VOL_COUNTS[k]
    text(x0 + 16.5, y0 + 23, "Significant", 24, bold=True, xanchor="left")
    for j, (lab, col) in enumerate([(f"up({up})", "#ff1a1a"), (f"nosig({nos})", "#858585"),
                                    (f"down({dn})", "#1515f0")]):
        dot(x0 + 21, y0 + 45 + 20.7 * j, 14, col)
        text(x0 + 30, y0 + 43 + 20.7 * j, lab, 24, xanchor="left")
    text(x1 - 22, y0 + 19, "VIP", 24, bold=True, xanchor="right")
    for j, v in enumerate(VIP_LEGEND[k]):
        dot(x1 - 55, y0 + 41 + 19.7 * j, vip_size(v, vmax), "black")
        text(x1 - 8, y0 + 39 + 19.7 * j, f"{v:.1f}", 24, xanchor="right")
    cxp = (x0 + x1) / 2
    text(cxp - 5, 1707, COMPARISONS[k] + " volcano plot", 31, bold=True)
    text(cxp - 2, 2290, "Log2FC", 32, bold=True)
    text(x0 - 57, 1920, "-Log10(pvalue)", 31, bold=True, angle=-90)
text(62, 1620, "(E)", 37, bold=True, color="#231f20")

fig.update_layout(template="none", width=W, height=H, margin=dict(l=0, r=0, t=0, b=0, pad=0),
                  paper_bgcolor="white", plot_bgcolor="white", showlegend=False,
                  barmode="group", bargap=0.63, bargroupgap=0,
                  font=dict(family=FONT, color="black"), annotations=annotations, shapes=shapes, **layout)
fig.write_html("out.html", config={"displayModeBar": False, "staticPlot": False},
               post_script="document.body.style.margin='0px';document.body.style.padding='0px';")
